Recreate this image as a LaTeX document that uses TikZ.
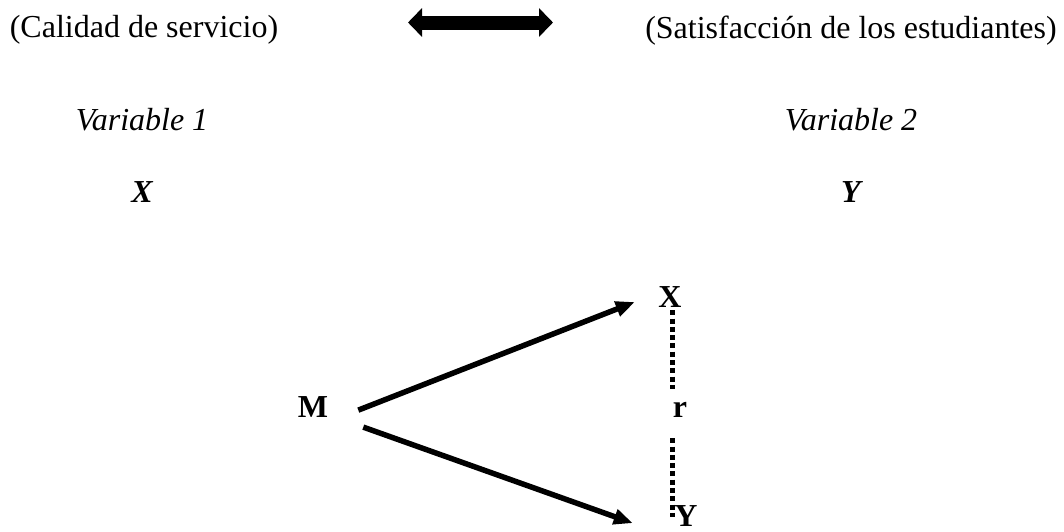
\documentclass[tikz,border=0pt]{standalone}
\usepackage{fontspec}
\setmainfont{Liberation Serif}
\usetikzlibrary{arrows.meta,positioning,calc}
\tikzset{
  txt/.style={inner sep=0pt, anchor=base, font=\fontsize{32}{38}\selectfont},
  var/.style={txt, font=\fontsize{32}{38}\selectfont\itshape},
  bvar/.style={txt, font=\fontsize{32}{38}\selectfont\bfseries\itshape},
  lt/.style={txt, font=\fontsize{32}{38}\selectfont\bfseries},
  arr/.style={-{Triangle[length=19pt,width=15pt]}, line width=5.5pt},
  dotl/.style={line width=5pt, dash pattern=on 5pt off 3.3pt},
  dbl/.style={{Triangle[length=14pt,width=28pt]}-{Triangle[length=14pt,width=28pt]}, line width=14pt},
}

\begin{document}
\begin{tikzpicture}[x=1pt,y=-1pt]
    \useasboundingbox (0,0) rectangle (1064,531);
    % top row
    \node[txt] (cal) at (144,37) {(Calidad de servicio)};
    \node[txt] (sat) at (851,38) {(Satisfacción de los estudiantes)};
    \coordinate (dl) at (408,22.5);
    \coordinate (dr) at (553,22.5);
    \draw[dbl] (dl) -- (dr);
    \node[var] (v1) at (142,130) {Variable 1};
    \node[var] (v2) at (851,130) {Variable 2};
    \node[bvar] (vx) at (142,202) {X};
    \node[bvar] (vy) at (851,202) {Y};
    % design
    \node[lt] (M) at (313,417) {M};
    \node[lt] (X) at (670,307) {X};
    \node[lt] (r) at (680,417) {r};
    \node[lt] (Y) at (686,526) {Y};
    \draw[arr] ([xshift=30pt,yshift=-3.6pt]M.east) -- ([xshift=-23.5pt,yshift=-5.5pt]X.west);
    \draw[arr] ([xshift=35pt,yshift=-20.6pt]M.east) -- ([xshift=-41.5pt,yshift=-7.6pt]Y.west);
    \draw[dotl, shorten <=3pt, shorten >=12.3pt] ([xshift=2pt]X.south) -- ([xshift=2pt]X.south |- r.north);
    \draw[dotl, shorten <=21pt, shorten >=9pt] ([xshift=2pt]X.south |- r.south) -- ([xshift=2pt]X.south |- Y.south);
\end{tikzpicture}
\end{document}
